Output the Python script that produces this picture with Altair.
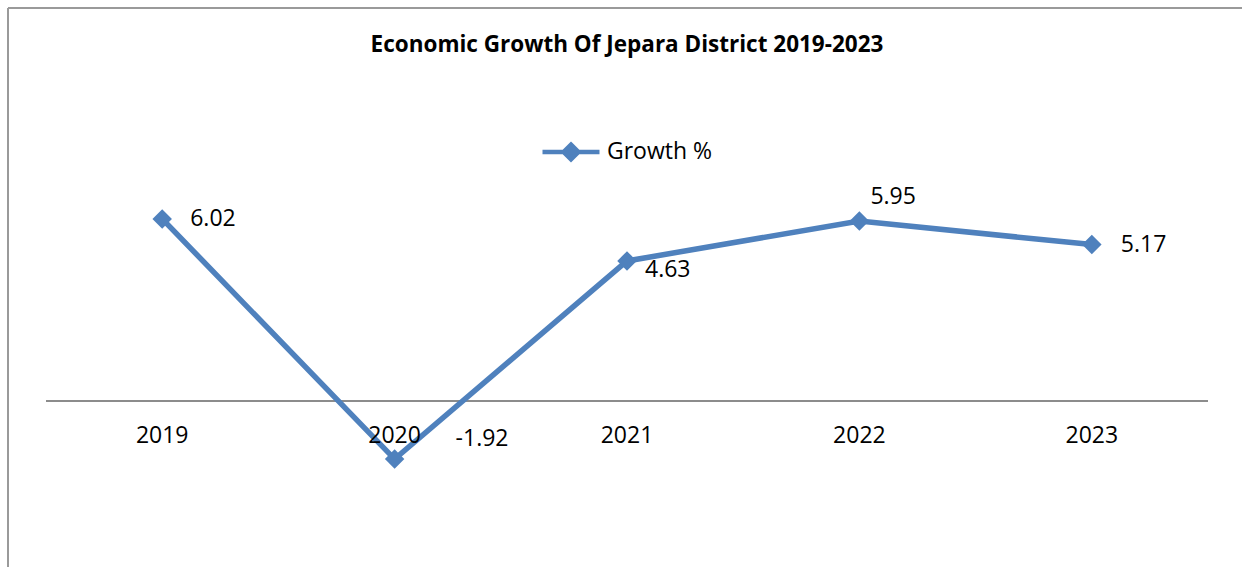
import altair as alt
import pandas as pd

years = [2019, 2020, 2021, 2022, 2023]
growth = [6.02, -1.92, 4.63, 5.95, 5.17]
series_name = "Growth %"
title_text = "Economic Growth Of Jepara District 2019-2023"

# label offsets (styling only)
label_dx = {2019: 28, 2020: 61, 2021: 18, 2022: 11, 2023: 29}
label_dy = {2019: 0, 2020: -20, 2021: 9, 2022: -24, 2023: 0}

BLUE = "#4F81BD"
FONT = "Open Sans"

df = pd.DataFrame({"year": years, "growth": growth, "series": [series_name] * len(years)})
df["label"] = [f"{v:.2f}" for v in growth]
df["year_label"] = [str(y) for y in years]
df["zero"] = 0.0

x_scale = alt.Scale(domain=[2018.5, 2023.5])
y_scale = alt.Scale(domain=[-4, 8])
x_enc = alt.X("year:Q", scale=x_scale, axis=None)
y_enc = alt.Y("growth:Q", scale=y_scale, axis=None)
color_enc = alt.Color(
    "series:N",
    scale=alt.Scale(domain=[series_name], range=[BLUE]),
    legend=alt.Legend(
        title=None,
        orient="none",
        legendX=494,
        legendY=-38,
        symbolType="M-1,0L1,0M0,-0.26L0.26,0L0,0.26L-0.26,0Z",
        symbolSize=3249,
        symbolStrokeWidth=4.5,
        symbolFillColor=BLUE,
        symbolStrokeColor=BLUE,
        labelFont=FONT,
        labelFontSize=23,
        labelColor="#000000",
        labelOffset=5,
    ),
)

base = alt.Chart(df)

zero_rule = base.mark_rule(color="#8c8c8c", strokeWidth=1.5).encode(
    y=alt.Y("zero:Q", scale=y_scale, axis=None)
)

line = base.mark_line(strokeWidth=5.5).encode(x=x_enc, y=y_enc, color=color_enc)
points = base.mark_point(shape="diamond", filled=True, size=380, opacity=1).encode(
    x=x_enc, y=y_enc, color=color_enc
)

labels = []
for yr in years:
    labels.append(
        base.transform_filter(alt.datum.year == yr)
        .mark_text(
            align="left",
            baseline="middle",
            dx=label_dx[yr],
            dy=label_dy[yr],
            font=FONT,
            fontSize=23,
            color="#000000",
        )
        .encode(x=x_enc, y=y_enc, text="label:N")
    )

cat_labels = base.mark_text(
    align="center", baseline="middle", dy=35, font=FONT, fontSize=23, color="#000000"
).encode(x=x_enc, y=alt.Y("zero:Q", scale=y_scale, axis=None), text="year_label:N")

frame_df = pd.DataFrame({"title": [title_text]})
border_left = alt.Chart(frame_df).mark_rule(color="#9a9a9a", strokeWidth=2).encode(
    x=alt.value(-38), y=alt.value(-151), y2=alt.value(420)
)
border_top = alt.Chart(frame_df).mark_rule(color="#9a9a9a", strokeWidth=2).encode(
    x=alt.value(-38), x2=alt.value(1200), y=alt.value(-151)
)
title_mark = alt.Chart(frame_df).mark_text(
    font=FONT, fontSize=22.5, fontWeight="bold", color="#000000",
    align="center", baseline="alphabetic",
).encode(x=alt.value(581), y=alt.value(-107), text="title:N")

chart = (
    alt.layer(border_left, border_top, title_mark, zero_rule, line, points, *labels, cat_labels)
    .properties(
        width=1162,
        height=363,
        autosize=alt.AutoSizeParams(type="none"),
        padding={"left": 46, "top": 159, "right": 34, "bottom": 45},
        background="#ffffff",
    )
    .configure_view(stroke=None)
)

chart.save("out.html", embed_options={"renderer": "svg", "actions": False})
